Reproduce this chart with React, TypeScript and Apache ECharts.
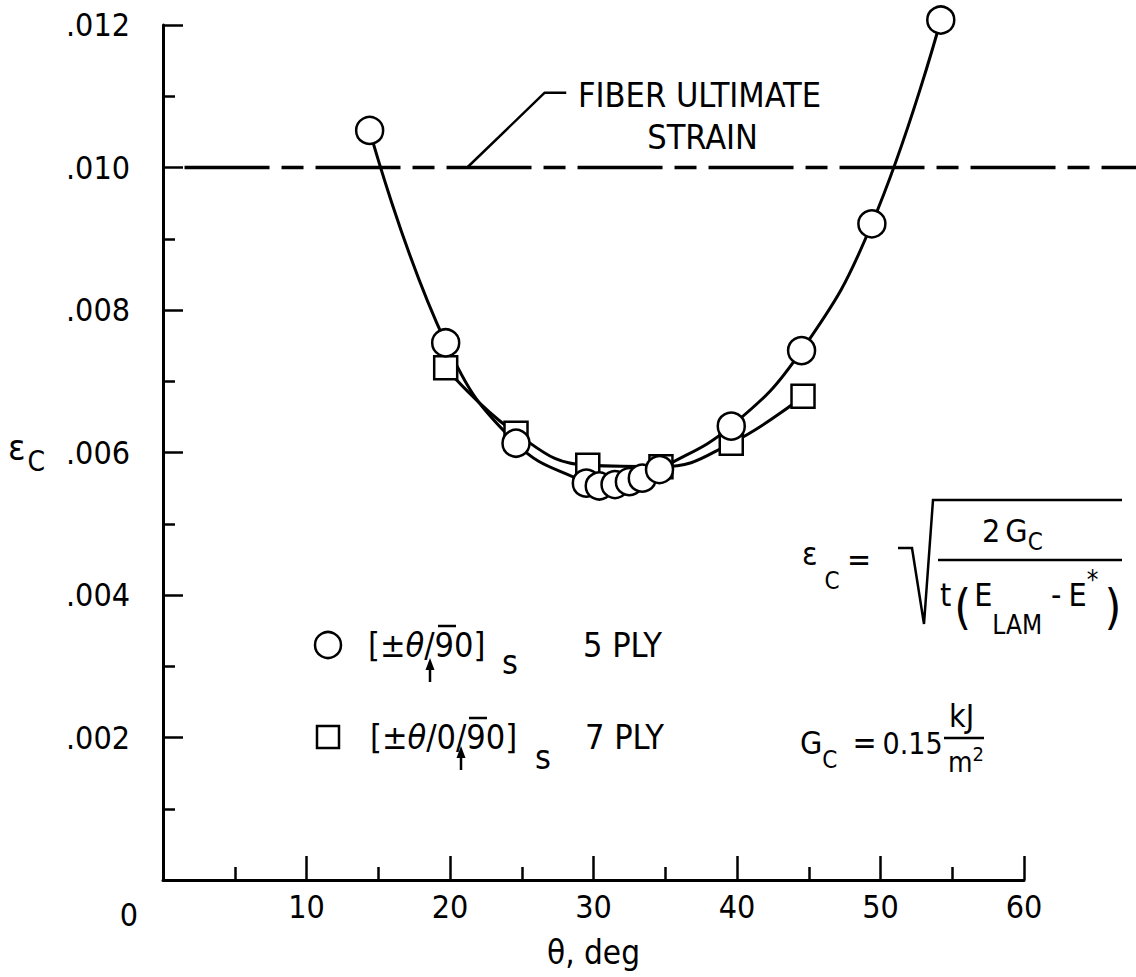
import React, { useEffect, useRef } from 'react';
import * as echarts from 'echarts';

const FONT = "'Liberation Sans Narrow', 'DejaVu Sans Condensed', 'Arial Narrow', 'Liberation Sans', sans-serif";

// 5-ply laminate [±θ/90]s  (circles)
const fivePlyTheta = [14.4, 19.7, 24.6, 29.5, 30.4, 31.5, 32.5, 33.4, 34.6, 39.6, 44.5, 49.4, 54.2];
const fivePlyStrain = [0.01052, 0.00754, 0.00613, 0.00557, 0.00553, 0.00555, 0.00559, 0.00564, 0.00576, 0.00637, 0.00743, 0.00921, 0.01207];
// 7-ply laminate [±θ/0/90]s  (squares)
const sevenPlyTheta = [19.7, 24.6, 29.6, 34.7, 39.6, 44.6];
const sevenPlyStrain = [0.00719, 0.00627, 0.00582, 0.0058, 0.00613, 0.00679];
// fiber ultimate strain reference line
const fiberUltimateStrain = 0.01;
const fiberLineTheta = [1.5, 67.8];
// leader line from label to reference line
const leaderTheta = [21.2, 26.6, 28.1];
const leaderStrain = [0.01, 0.01105, 0.01105];

const xTicks = [0, 10, 20, 30, 40, 50, 60];

const zip = (a: number[], b: number[]) => a.map((v, i) => [v, b[i]]);

export default function App() {
  const ref = useRef<HTMLDivElement>(null);
  useEffect(() => {
    if (!ref.current) return;
    const chart = echarts.init(ref.current, undefined, { renderer: 'svg' });
    const black = '#000';
    const fs = (size: number, extra: any = {}) => ({ fontSize: size, fontFamily: FONT, fill: black, verticalAlign: 'top', ...extra });
    const txt = (text: string, x: number, y: number, size = 34, extra: any = {}) => ({
      type: 'text',
      silent: true,
      style: { text, x, y, fill: black, fontSize: size, fontFamily: FONT, textAlign: 'left', textVerticalAlign: 'middle', ...extra },
    });
    // rich text block, anchored by its top-left
    const rtxt = (text: string, x: number, yTop: number, rich: any) => ({
      type: 'text',
      silent: true,
      style: { text, x, y: yTop, fill: black, fontFamily: FONT, textAlign: 'left', textVerticalAlign: 'top', rich },
    });
    const ln = (x1: number, y1: number, x2: number, y2: number, w = 2.5) => ({
      type: 'line', silent: true, shape: { x1, y1, x2, y2 }, style: { stroke: black, lineWidth: w },
    });
    const arrow = (x: number, yTip: number, yEnd: number) => ([
      ln(x, yTip + 6, x, yEnd, 2.5),
      { type: 'polygon', silent: true, shape: { points: [[x, yTip], [x - 4.5, yTip + 12], [x + 4.5, yTip + 12]] }, style: { fill: black } },
    ]);
    const lineCommon = {
      type: 'line',
      silent: true,
      emphasis: { disabled: true },
      lineStyle: { color: black, width: 3 },
      itemStyle: { color: '#fff', borderColor: black, borderWidth: 2.5 },
    };
    const legendRich = {
      n: { fontSize: 34, fontFamily: FONT, fill: black },
      i: { fontSize: 34, fontFamily: FONT, fontStyle: 'italic', fill: black },
    };
    const option: any = {
      animation: false,
      backgroundColor: '#fff',
      grid: [
        { left: 163, top: 25, right: 112, bottom: 97 },
        { left: 163, top: 25, right: 0, bottom: 97 },
      ],
      xAxis: [
        {
          type: 'value', gridIndex: 0, min: 0, max: 60, interval: 10,
          name: 'θ, deg', nameLocation: 'middle', nameGap: 44,
          nameTextStyle: { color: black, fontSize: 33, fontFamily: FONT },
          axisLine: { lineStyle: { color: black, width: 3 } },
          axisTick: { inside: true, length: 24, lineStyle: { color: black, width: 2.5 } },
          minorTick: { show: true, splitNumber: 2, length: 13, lineStyle: { color: black, width: 2.5 } },
          splitLine: { show: false },
          axisLabel: {
            customValues: xTicks,
            color: black, fontSize: 32, fontFamily: FONT, margin: 11,
            formatter: (v: number) => (v === 0 ? '{o|0}' : String(v)),
            rich: { o: { color: black, fontSize: 32, fontFamily: FONT, padding: [8, 68, 0, 0] } },
          },
        },
        { type: 'value', gridIndex: 1, min: 0, max: 67.8, show: false },
      ],
      yAxis: [
        {
          type: 'value', gridIndex: 0, min: 0, max: 0.012, interval: 0.002,
          name: '{e|ε}{c|C}', nameLocation: 'middle', nameRotate: 0, nameGap: 118,
          nameTextStyle: {
            padding: [0, 0, 10, 0],
            rich: {
              e: { color: black, fontSize: 36, fontFamily: FONT, lineHeight: 36, verticalAlign: 'top' },
              c: { color: black, fontSize: 28, fontFamily: FONT, lineHeight: 30, padding: [18, 0, 0, 2], verticalAlign: 'top' },
            },
          },
          axisLine: { lineStyle: { color: black, width: 3 } },
          axisTick: { inside: true, length: 20, lineStyle: { color: black, width: 2.5 } },
          minorTick: { show: true, splitNumber: 2, length: 12, lineStyle: { color: black, width: 2.5 } },
          splitLine: { show: false },
          axisLabel: {
            color: black, fontSize: 32, fontFamily: FONT, margin: 33,
            formatter: (v: number) => (v === 0 ? '' : v.toFixed(3).replace(/^0/, '')),
          },
        },
        { type: 'value', gridIndex: 1, min: 0, max: 0.012, show: false },
      ],
      series: [
        {
          ...lineCommon, name: 'Fiber ultimate strain', xAxisIndex: 1, yAxisIndex: 1, symbol: 'none',
          lineStyle: { color: black, width: 3.5, type: [85, 12, 22, 12] },
          data: fiberLineTheta.map((t) => [t, fiberUltimateStrain]),
        },
        {
          ...lineCommon, name: 'leader', symbol: 'none', lineStyle: { color: black, width: 2.5 },
          data: zip(leaderTheta, leaderStrain),
        },
        {
          ...lineCommon, name: '7 PLY', symbol: 'rect', symbolSize: 23, smooth: 0.45,
          data: zip(sevenPlyTheta, sevenPlyStrain),
        },
        {
          ...lineCommon, name: '5 PLY', symbol: 'circle', symbolSize: 27, smooth: 0.45, clip: false,
          data: zip(fivePlyTheta, fivePlyStrain),
        },
      ],
      graphic: [
        txt('FIBER ULTIMATE', 578, 95, 34),
        txt('STRAIN', 758, 137, 34, { textAlign: 'right' }),
        // legend
        { type: 'circle', silent: true, shape: { cx: 328, cy: 645, r: 13 }, style: { fill: '#fff', stroke: black, lineWidth: 2.5 } },
        txt('{n|[±}{i|θ}{n|/90]}', 368, 645, 34, { rich: legendRich }),
        ln(438, 626, 456, 626, 2.5),
        ...arrow(430, 658, 682),
        txt('s', 502, 662, 34),
        txt('5 PLY', 583, 645, 34),
        { type: 'rect', silent: true, shape: { x: 317, y: 726, width: 22, height: 22 }, style: { fill: '#fff', stroke: black, lineWidth: 2.5 } },
        txt('{n|[±}{i|θ}{n|/0/90]}', 370, 737, 34, { rich: legendRich }),
        ln(469, 718, 487, 718, 2.5),
        ...arrow(461, 746, 770),
        txt('s', 535, 757, 34),
        txt('7 PLY', 585, 737, 34),
        // formula: eps_C = sqrt( 2 G_C / t(E_LAM - E*) )
        rtxt('{n|ε}{c|C}', 802, 538, { n: fs(32), c: fs(24, { padding: [31, 0, 0, 7] }) }),
        txt('=', 847, 560, 32),
        { type: 'polyline', silent: true, shape: { points: [[898, 548], [912, 548], [924, 624], [933, 500], [1122, 500]] }, style: { stroke: black, lineWidth: 2.5, fill: 'none' } },
        rtxt('{n|2}{g|G}{c|C}', 982, 515, { n: fs(32), g: fs(32, { padding: [0, 0, 0, 5] }), c: fs(24, { padding: [15, 0, 0, 0] }) }),
        ln(938, 560, 1122, 560),
        rtxt('{n|t}{p|(}{e|E}{c|LAM}{m|-}{f|E}{u|*}{q|)}', 940, 567, {
          n: fs(32, { padding: [12, 0, 0, 0] }),
          p: fs(48, { padding: [16, 0, 0, 3] }),
          e: fs(32, { padding: [12, 0, 0, 3] }),
          c: fs(26, { padding: [45, 0, 0, 0] }),
          m: fs(32, { padding: [12, 0, 0, 9] }),
          f: fs(32, { padding: [12, 0, 0, 7] }),
          u: fs(26, { padding: [0, 0, 0, 0] }),
          q: fs(48, { padding: [16, 0, 0, 6] }),
        }),
        // G_C = 0.15 kJ/m^2
        rtxt('{n|G}{c|C}{e|=}{v|0.15}', 800, 727, {
          n: fs(32), c: fs(24, { padding: [21, 0, 0, 0] }),
          e: fs(32, { padding: [0, 0, 0, 15] }), v: fs(30, { padding: [1, 0, 0, 6] }),
        }),
        txt('kJ', 949, 716, 32),
        ln(944, 738, 984, 738),
        rtxt('{n|m}{u|2}', 948, 742, { n: fs(28, { padding: [6, 0, 0, 0] }), u: fs(20, { padding: [2, 0, 0, 0] }) }),
      ],
    };
    chart.setOption(option);
    return () => chart.dispose();
  }, []);
  return <div ref={ref} style={{ position: 'absolute', left: 0, top: 0, width: 1136, height: 977 }} />;
}
